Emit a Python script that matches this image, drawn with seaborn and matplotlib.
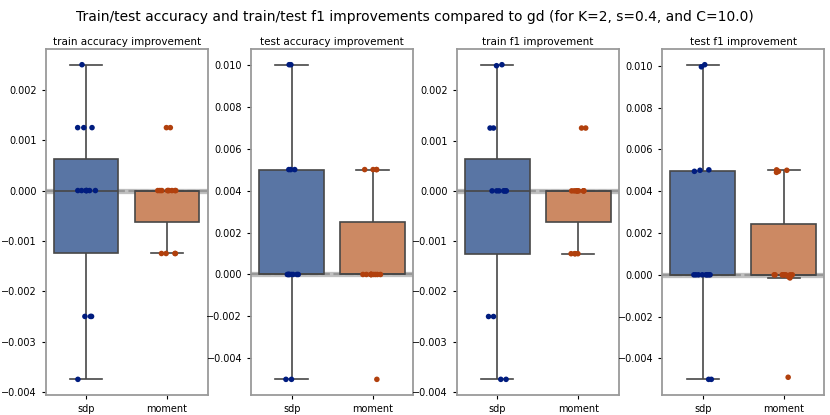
import numpy as np
import pandas as pd
import matplotlib
matplotlib.use("Agg")
import matplotlib.pyplot as plt
import seaborn as sns

# improvements over gd, one value per run (n=15 runs per method)
methods = ["sdp", "moment"]

train_acc_sdp = [-0.00375, -0.0025, -0.0025, -0.0025, 0, 0, 0, 0, 0, 0, 0,
                 0.00125, 0.00125, 0.00125, 0.0025]
train_acc_moment = [-0.00125, -0.00125, -0.00125, -0.00125, 0, 0, 0, 0, 0, 0, 0, 0, 0,
                    0.00125, 0.00125]

test_acc_sdp = [-0.005, -0.005, 0, 0, 0, 0, 0, 0, 0, 0,
                0.005, 0.005, 0.005, 0.01, 0.01]
test_acc_moment = [-0.005, 0, 0, 0, 0, 0, 0, 0, 0, 0, 0,
                   0.005, 0.005, 0.005, 0.005]

train_f1_sdp = [-0.00375, -0.00375, -0.0025, -0.0025, 0, 0, 0, 0, 0, 0, 0,
                0.00125, 0.00125, 0.00249, 0.00251]
train_f1_moment = [-0.00125, -0.00125, -0.00125, -0.00125, 0, 0, 0, 0, 0, 0, 0, 0, 0,
                   0.00125, 0.00125]

test_f1_sdp = [-0.005, -0.005, 0, 0, 0, 0, 0, 0, 0, 0,
               0.00495, 0.005, 0.00502, 0.00995, 0.01005]
test_f1_moment = [-0.0049, -0.00015, -0.0001, 0, 0, 0, 0, 0, 0, 0, 0,
                  0.0049, 0.00495, 0.005, 0.00502]

panels = [
    ("train accuracy improvement", train_acc_sdp, train_acc_moment),
    ("test accuracy improvement", test_acc_sdp, test_acc_moment),
    ("train f1 improvement", train_f1_sdp, train_f1_moment),
    ("test f1 improvement", test_f1_sdp, test_f1_moment),
]

np.random.seed(7)

fig, axes = plt.subplots(1, 4, figsize=(8.3, 4.15), dpi=100)
fig.subplots_adjust(left=0.055, right=0.993, top=0.882, bottom=0.048, wspace=0.27)

for ax, (title, sdp_vals, moment_vals) in zip(axes, panels):
    df = pd.DataFrame({
        "method": ["sdp"] * len(sdp_vals) + ["moment"] * len(moment_vals),
        "value": list(sdp_vals) + list(moment_vals),
    })
    # zero reference line
    ax.axhline(0, color="#c0c0c0", lw=3.8, zorder=0.5)
    ax.axhline(0, color="#989898", lw=1.6, ls="--", zorder=0.6)
    sns.boxplot(data=df, x="method", y="value", hue="method", order=methods,
                palette="deep", showfliers=False, legend=False, linewidth=1.2,
                linecolor="#474747", ax=ax)
    sns.stripplot(data=df, x="method", y="value", hue="method", order=methods,
                  palette="dark", size=4, jitter=0.12, legend=False, ax=ax)
    ax.set_title(title, fontsize=7.5, pad=3)
    ax.set_xlabel("")
    ax.set_ylabel("")
    ax.tick_params(labelsize=7, length=3, width=0.8)
    for sp in ax.spines.values():
        sp.set_color("#9a9a9a")
        sp.set_linewidth(1.3)

fig.suptitle("Train/test accuracy and train/test f1 improvements compared to gd "
             "(for K=2, s=0.4, and C=10.0)", fontsize=10, y=0.975)

fig.savefig("out.png", dpi=100)
